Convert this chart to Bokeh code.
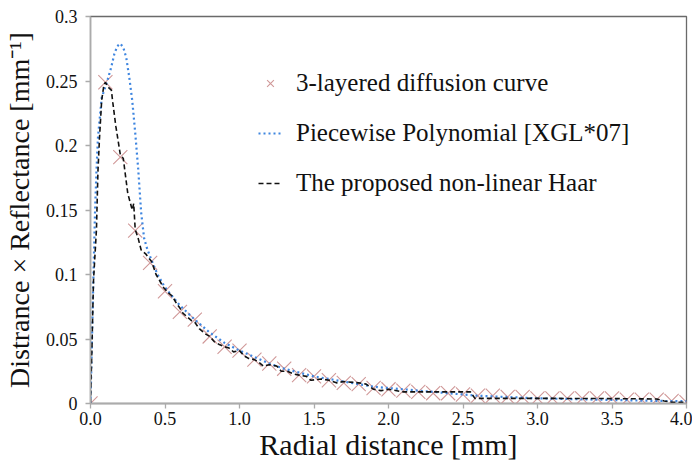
from bokeh.plotting import figure
from bokeh.models import Legend, LegendItem, FixedTicker
from bokeh.embed import file_html
from bokeh.resources import INLINE

# ---- data ----
cross_x = [0.0, 0.1, 0.2, 0.3, 0.4, 0.5, 0.6, 0.7, 0.8, 0.9, 1.0, 1.1, 1.2, 1.3, 1.4,
           1.5, 1.6, 1.7, 1.8, 1.9, 2.0, 2.1, 2.2, 2.3, 2.4, 2.5, 2.6, 2.7, 2.8, 2.9,
           3.0, 3.1, 3.2, 3.3, 3.4, 3.5, 3.6, 3.7, 3.8, 3.9, 4.0]
cross_y = [0.000, 0.249, 0.191, 0.134, 0.109, 0.087, 0.071, 0.065, 0.052, 0.044, 0.041,
           0.034, 0.031, 0.027, 0.022, 0.021, 0.018, 0.016, 0.015, 0.012, 0.011, 0.010,
           0.009, 0.008, 0.008, 0.007, 0.006, 0.006, 0.005, 0.005, 0.004, 0.004, 0.004,
           0.004, 0.004, 0.004, 0.003, 0.003, 0.003, 0.002, 0.001]

poly_x = [0.0, 0.01, 0.02, 0.03, 0.04, 0.05, 0.075, 0.11, 0.14, 0.16, 0.18, 0.2, 0.22,
          0.24, 0.26, 0.28, 0.3, 0.32, 0.34, 0.36, 0.38, 0.41, 0.45, 0.5, 0.6, 0.7, 0.8,
          0.9, 1.0, 1.1, 1.2, 1.3, 1.4, 1.5, 1.6, 1.7, 1.8, 1.9, 2.0, 2.2, 2.4, 2.6, 2.8,
          3.0, 3.2, 3.4, 3.6, 3.8, 4.0]
poly_y = [0.0, 0.05, 0.1, 0.147, 0.18, 0.206, 0.237, 0.249, 0.261, 0.271, 0.277, 0.279,
          0.276, 0.268, 0.253, 0.235, 0.21, 0.182, 0.148, 0.128, 0.12, 0.111, 0.1, 0.09,
          0.076, 0.065, 0.055, 0.047, 0.041, 0.036, 0.031, 0.027, 0.024, 0.021, 0.019,
          0.017, 0.015, 0.013, 0.012, 0.010, 0.008, 0.006, 0.005, 0.004, 0.0035, 0.003,
          0.0025, 0.002, 0.0018]

haar_x = [0.0, 0.01, 0.02, 0.03, 0.04, 0.05, 0.06, 0.075, 0.09, 0.1, 0.12, 0.14, 0.15,
          0.17, 0.2, 0.22, 0.25, 0.28, 0.29, 0.3, 0.32, 0.34, 0.37, 0.41, 0.44, 0.47,
          0.49, 0.52, 0.55, 0.58, 0.6, 0.62, 0.65, 0.68, 0.7, 0.73, 0.77, 0.8, 0.83, 0.86,
          0.9, 0.93, 0.96, 1.0, 1.03, 1.06, 1.1, 1.13, 1.16, 1.2, 1.25, 1.28, 1.32, 1.36,
          1.4, 1.45, 1.48, 1.55, 1.6, 1.65, 1.7, 1.8, 1.85, 1.9, 1.95, 2.0, 2.1, 2.2, 2.3,
          2.4, 2.5, 2.55, 2.58, 2.7, 3.0, 3.5, 3.8, 3.85, 3.9, 4.0]
haar_y = [0.0, 0.045, 0.095, 0.115, 0.135, 0.18, 0.205, 0.235, 0.247, 0.249, 0.245,
          0.243, 0.233, 0.215, 0.193, 0.19, 0.163, 0.15, 0.155, 0.135, 0.128, 0.119,
          0.116, 0.11, 0.1, 0.094, 0.09, 0.086, 0.083, 0.077, 0.074, 0.07, 0.067, 0.064,
          0.063, 0.058, 0.054, 0.052, 0.048, 0.046, 0.044, 0.043, 0.04, 0.041, 0.037,
          0.035, 0.034, 0.032, 0.029, 0.03, 0.029, 0.025, 0.025, 0.023, 0.022, 0.021,
          0.018, 0.019, 0.018, 0.016, 0.017, 0.016, 0.015, 0.011, 0.01, 0.011, 0.009,
          0.009, 0.009, 0.009, 0.009, 0.009, 0.004, 0.004, 0.004, 0.0038, 0.0035, 0.002,
          0.001, 0.001]

x_ticks = [0.0, 0.5, 1.0, 1.5, 2.0, 2.5, 3.0, 3.5, 4.0]
x_tick_labels = ["0.0", "0.5", "1.0", "1.5", "2.0", "2.5", "3.0", "3.5", "4.0"]
y_ticks = [0.0, 0.05, 0.1, 0.15, 0.2, 0.25, 0.3]
y_tick_labels = ["0", "0.05", "0.1", "0.15", "0.2", "0.25", "0.3"]

series_labels = ["3-layered diffusion curve", "Piecewise Polynomial [XGL*07]",
                 "The proposed non-linear Haar"]

FONT = "Liberation Serif"

p = figure(width=692, height=464, output_backend="svg", toolbar_location=None,
           x_range=(0, 4.0), y_range=(0, 0.3),
           min_border_left=89, min_border_right=6, min_border_top=16, min_border_bottom=61)
p.background_fill_color = "white"
p.border_fill_color = "white"
p.xgrid.visible = False
p.ygrid.visible = False
p.outline_line_color = "#6a6a6a"
p.outline_line_width = 1.3

# renderers
r_cross = p.scatter(cross_x, cross_y, marker="x", size=20, line_color="#d09898",
                    line_width=1.1)
r_poly = p.line(poly_x, poly_y, line_color="#3f86e0", line_width=2.2, line_dash="2 3")
r_haar = p.line(haar_x, haar_y, line_color="#111111", line_width=1.6, line_dash="5 3")

# axes
for ax in (p.xaxis[0], p.yaxis[0]):
    ax.axis_line_color = "#ababab"
    ax.axis_line_width = 1.5
    ax.major_tick_line_color = "#ababab"
    ax.major_tick_line_width = 1.3
    ax.major_tick_in = 0
    ax.major_tick_out = 5
    ax.minor_tick_line_color = None
    ax.major_label_text_font = FONT
    ax.major_label_text_font_size = "18px"
    ax.major_label_text_color = "#111111"
    ax.axis_label_text_font = FONT
    ax.axis_label_text_font_style = "normal"
    ax.axis_label_text_color = "#111111"

p.xaxis[0].axis_label_text_font_size = "30px"
p.yaxis[0].axis_label_text_font_size = "28px"
p.xaxis[0].ticker = FixedTicker(ticks=x_ticks)
p.xaxis[0].major_label_overrides = dict(zip(x_ticks, x_tick_labels))
p.yaxis[0].ticker = FixedTicker(ticks=y_ticks)
p.yaxis[0].major_label_overrides = dict(zip(y_ticks, y_tick_labels))
p.xaxis[0].axis_label = "Radial distance [mm]"
p.yaxis[0].axis_label = "Distrance × Reflectance [mm⁻¹]"
p.xaxis[0].major_label_standoff = 3
p.yaxis[0].major_label_standoff = 8
p.xaxis[0].axis_label_standoff = 0
p.yaxis[0].axis_label_standoff = 8

legend = Legend(items=[LegendItem(label=series_labels[0], renderers=[r_cross]),
                       LegendItem(label=series_labels[1], renderers=[r_poly]),
                       LegendItem(label=series_labels[2], renderers=[r_haar])],
                location=(168, 205))
legend.border_line_color = None
legend.background_fill_alpha = 0
legend.label_text_font = FONT
legend.label_text_font_size = "25px"
legend.label_text_color = "#111111"
legend.glyph_width = 24
legend.glyph_height = 24
legend.label_height = 30
legend.label_standoff = 14
legend.spacing = 20
legend.padding = 0
legend.margin = 0
p.add_layout(legend)

open("out.html", "w").write(file_html(p, INLINE))
